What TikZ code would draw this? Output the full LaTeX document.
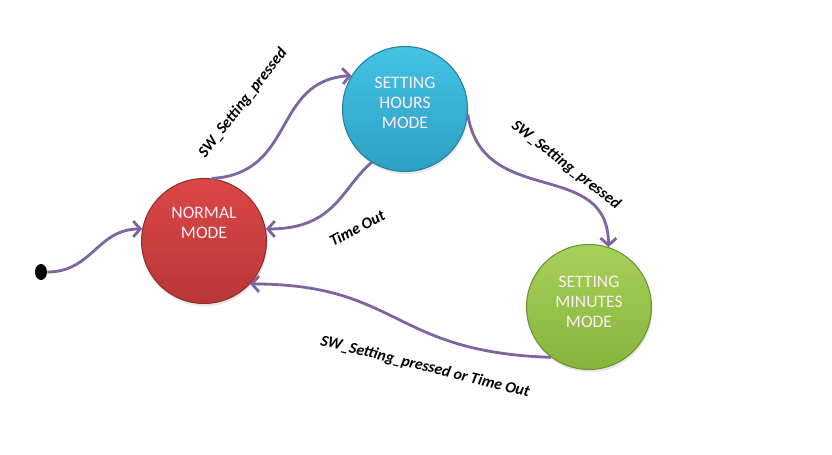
\documentclass[tikz,border=0pt]{standalone}
\usepackage{fontspec}
\setmainfont{Carlito}
\usetikzlibrary{arrows.meta, shapes.geometric, shadows}

\definecolor{edgepurple}{HTML}{8064A2}
\definecolor{normaltop}{HTML}{DC4646}
\definecolor{normalbot}{HTML}{BA3737}
\definecolor{hourstop}{HTML}{44C3E4}
\definecolor{hoursbot}{HTML}{2CA0C3}
\definecolor{minutestop}{HTML}{A6D158}
\definecolor{minutesbot}{HTML}{86B53C}

\tikzset{
    state/.style={circle, inner sep=0pt, minimum size=2.5cm, draw=#1bot!80!black,
        line width=0.6pt, top color=#1top, bottom color=#1bot,
        drop shadow={opacity=0.2, shadow xshift=0.5pt, shadow yshift=-1.5pt}},
    statetext/.style={align=center, text=white!92!magenta,
        font=\fontsize{10}{11.5}\selectfont},
    edge/.style={draw=edgepurple, line width=1.6pt,
        -{Straight Barb[length=4pt, width=9pt]}},
    edgelabel/.style={font=\fontsize{9}{11}\selectfont\bfseries\itshape}
}

\begin{document}
\begin{tikzpicture}[x=0.02cm, y=-0.02cm]
    \useasboundingbox (0,0) rectangle (832,455);
    % states
    \node[state=normal] (normal) at (204,241) {};
    \node[state=hours] (hours) at (405,109) {};
    \node[state=minutes] (minutes) at (589,307) {};
    \node[statetext] (normaltext) at (204,223) {NORMAL\\MODE};
    \node[statetext] (hourstext) at (405,103) {SETTING\\HOURS\\MODE};
    \node[statetext] (minutestext) at (589,302) {SETTING\\MINUTES\\MODE};
    % initial point
    \node[ellipse, fill=black, inner sep=0pt, minimum width=0.24cm,
        minimum height=0.32cm] (init) at (41,272) {};
    % transitions
    \draw[edge] (init.east) .. controls +(45,0) and +(-45,0) .. (normal.169);
    \draw[edge] (normal.83) .. controls +(85,-5) and +(-80,5) .. (hours.148);
    \draw[edge] (hours.-122) .. controls +(-30,25) and +(70,0) .. (normal.11);
    \draw[edge] (hours.-5) .. controls +(15,95) and +(0,-90) .. (minutes.72);
    \draw[edge] (minutes.-127) .. controls +(-160,-5) and +(150,0) .. (normal.-43);
    % labels
    \node[edgelabel, rotate=52] (presslabel) at (243,103) {SW\_Setting\_pressed};
    \node[edgelabel, rotate=28] (timeoutlabel) at (357,228) {Time Out};
    \node[edgelabel, rotate=-38] (presslabeltwo) at (566,165) {SW\_Setting\_pressed};
    \node[edgelabel, rotate=-14] (backlabel) at (425,367) {SW\_Setting\_pressed or Time Out};
\end{tikzpicture}
\end{document}
